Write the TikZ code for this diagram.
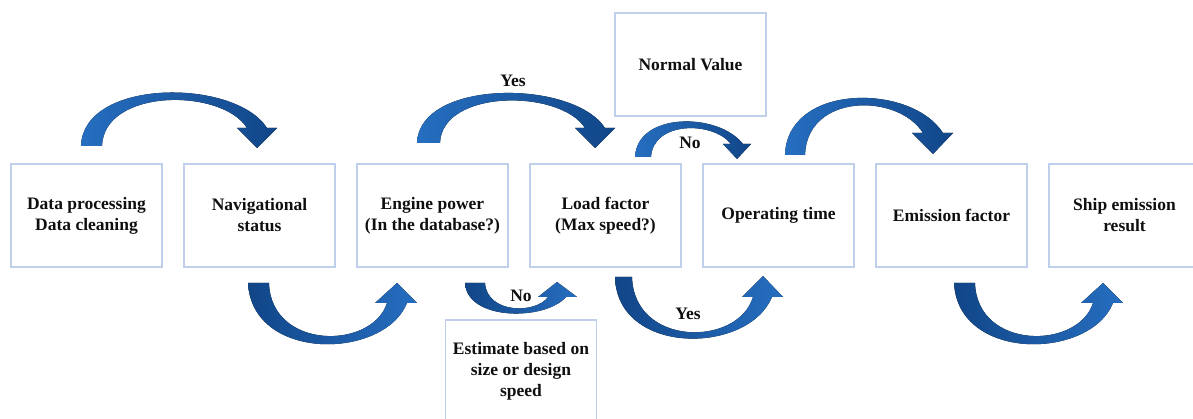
\documentclass[tikz,border=0pt]{standalone}
\usepackage{fontspec}
\setmainfont{Liberation Serif}
\definecolor{boxblue}{RGB}{192,207,236}
\definecolor{arrlight}{RGB}{38,110,192}
\definecolor{arrdark}{RGB}{17,70,136}
\definecolor{txt}{RGB}{15,15,15}
\tikzset{
  box/.style={draw=boxblue, line width=1.1pt, fill=white, minimum width=151pt,
    minimum height=103pt, align=center, inner sep=2pt,
    font=\bfseries\fontsize{17.5}{21}\selectfont, text=txt},
  lbl/.style={font=\bfseries\fontsize{17.5}{21}\selectfont, text=txt, inner sep=1pt},
  toparr/.style={left color=arrlight, right color=arrdark, draw=none},
  botarr/.style={left color=arrdark, right color=arrlight, draw=none}
}
\begin{document}
\begin{tikzpicture}[x=1pt,y=-1pt]
\useasboundingbox (0,0) rectangle (1193,419);
\fill[white] (0,0) rectangle (1193,419);
\clip (0,0) rectangle (1193,419);

% boxes
\node[box] (b1) at (86.5,215.5) {Data processing\\Data cleaning};
\node[box] (b2) at (259.5,215.5) {Navigational\\status};
\node[box] (b3) at (432.5,215.5) {Engine power\\(In the database?)};
\node[box] (b4) at (605.5,215.5) {Load factor\\(Max speed?)};
\node[box] (b5) at (778.5,215.5) {Operating time};
\node[box] (b6) at (951.5,215.5) {Emission factor};
\node[box] (b7) at (1124.5,215.5) {Ship emission\\result};
\node[box] (nv) at (690.5,64.5) {Normal Value};
\node[box] (est) at (521,371.5) {Estimate based on\\size or design\\speed};

% top curved arrows
\fill[toparr] (81,146) .. controls (83,78) and (235,78) .. (267,128) -- (277,128)
  -- (257,148) -- (237,128) -- (247,128) .. controls (222,88) and (104,88) .. (102,146) -- cycle;
\fill[toparr] (417,143) .. controls (419,79) and (573,79) .. (605,128) -- (615,128)
  -- (595,148) -- (575,128) -- (585,128) .. controls (560,89) and (442,89) .. (440,143) -- cycle;
\fill[toparr] (785,155) .. controls (787,83) and (911,83) .. (943,133) -- (953,133)
  -- (933,154) -- (912,133) -- (923,133) .. controls (898,93) and (807,93) .. (805,155) -- cycle;
\fill[toparr] (635,157) .. controls (637,112) and (718,112) .. (743,144) -- (751,144)
  -- (737,159) -- (723,144) -- (731,144) .. controls (713,121) and (653,121) .. (651,157) -- cycle;

% bottom curved arrows
\fill[botarr] (248,283) .. controls (252,362) and (384,360) .. (407,303) -- (417,303)
  -- (397,283) -- (375,303) -- (387,303) .. controls (372,350) and (271,350) .. (269,283) -- cycle;
\fill[botarr] (954,283) .. controls (958,362) and (1090,360) .. (1113,303) -- (1123,303)
  -- (1103,283) -- (1081,303) -- (1093,303) .. controls (1078,350) and (977,350) .. (975,283) -- cycle;
\fill[botarr] (465,283) .. controls (467,321) and (545,321) .. (566,297) -- (577,297)
  -- (557,282) -- (538,297) -- (548,297) .. controls (536,314) and (487,314) .. (485,283) -- cycle;
\fill[botarr] (615,277) .. controls (617,356) and (748,355) .. (772,297) -- (783,297)
  -- (763,276) -- (742,297) -- (753,297) .. controls (738,347) and (634,347) .. (632,277) -- cycle;

% labels
\node[lbl] (yes1) at (513,81) {Yes};
\node[lbl] (no1) at (690,143) {No};
\node[lbl] (no2) at (521,296) {No};
\node[lbl] (yes2) at (688,314) {Yes};
\end{tikzpicture}
\end{document}
